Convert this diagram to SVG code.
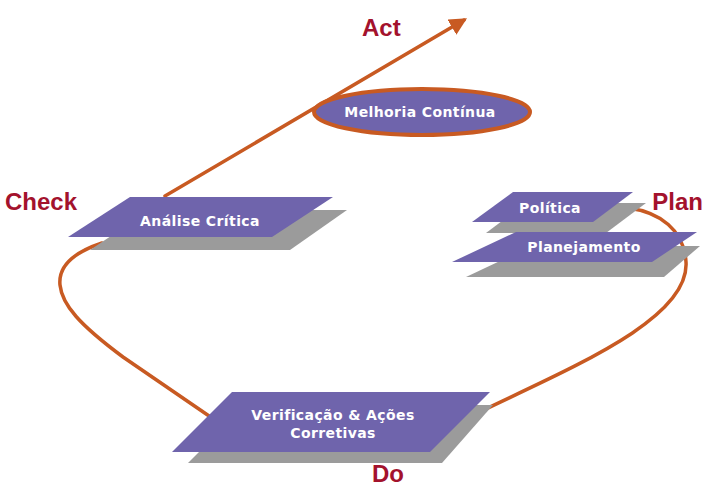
<svg xmlns="http://www.w3.org/2000/svg" width="705" height="497" viewBox="0 0 705 497">
<defs>
<style>
.plate{fill:#6f64ac}
.shadow{fill:#9b9b9b}
.node-text{font-family:"DejaVu Sans","Liberation Sans",sans-serif;font-weight:bold;font-size:14px;letter-spacing:0.4px;fill:#ffffff;text-anchor:middle}
.label{font-family:"Liberation Sans",Arial,sans-serif;font-weight:bold;font-size:24px;fill:#a3122d}
.conn{fill:none;stroke:#c85a22;stroke-width:3.5;stroke-linecap:round}
</style>
<marker id="arrow" viewBox="0 0 10 10" refX="8" refY="5" markerWidth="5" markerHeight="5" orient="auto" markerUnits="strokeWidth">
<path d="M0,0 L10,5 L0,10 Z" fill="#c85a22"/>
</marker>
</defs>
<rect width="705" height="497" fill="#ffffff"/>
<g id="connectors">
<path class="conn" d="M102,243 C75,252 58,265 60,285 C62,305 80,325 123,357 L212,418"/>
<path class="conn" d="M463,420 C560,372 690,322 686,262 C684,230 660,212 628,208"/>
<path class="conn" d="M165,196 L464,20" marker-end="url(#arrow)"/>
</g>
<g id="node-analise">
<polygon class="shadow" points="150,210 347,210 290,250 90,250"/>
<polygon class="plate" points="130,197 333,197 272,237 68,237"/>
<text class="node-text" x="200" y="226">Análise Crítica</text>
</g>
<g id="node-politica">
<polygon class="shadow" points="526,203 646,203 606,233 486,233"/>
<polygon class="plate" points="513,192 633,192 593,222 472,222"/>
<text class="node-text" x="550" y="213">Política</text>
</g>
<g id="node-planejamento">
<polygon class="shadow" points="532,246 700,246 664,277 466,277"/>
<polygon class="plate" points="516,232 697,232 652,262 452,262"/>
<text class="node-text" x="584" y="252">Planejamento</text>
</g>
<g id="node-verificacao">
<polygon class="shadow" points="246,405 493,405 442,463 188,463"/>
<polygon class="plate" points="232,392 490,392 430,452 172,452"/>
<text class="node-text" x="333" y="420">Verificação &amp; Ações</text>
<text class="node-text" x="333" y="438">Corretivas</text>
</g>
<g id="node-melhoria">
<ellipse cx="422" cy="112" rx="108" ry="23" fill="#6f64ac" stroke="#c85a22" stroke-width="4"/>
<text class="node-text" x="420" y="117">Melhoria Contínua</text>
</g>
<g id="labels">
<text class="label" x="362" y="36">Act</text>
<text class="label" x="5" y="210">Check</text>
<text class="label" x="703" y="210" text-anchor="end">Plan</text>
<text class="label" x="372" y="482">Do</text>
</g>
</svg>
